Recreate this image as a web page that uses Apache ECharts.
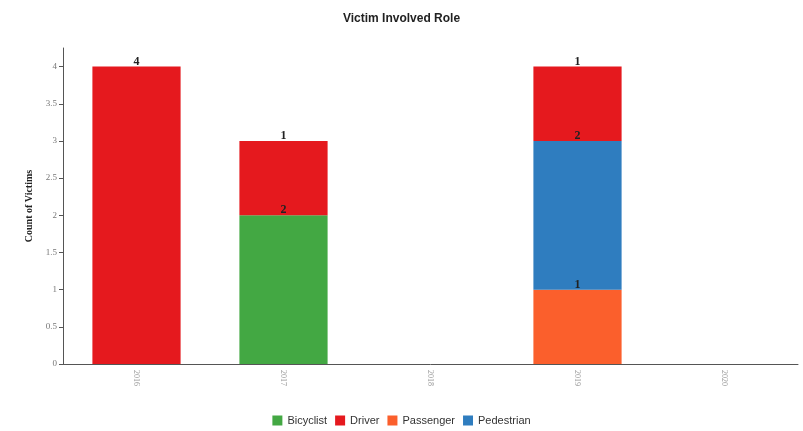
<!DOCTYPE html>
<html>
<head>
<meta charset="utf-8">
<script src="https://cdn.jsdelivr.net/npm/echarts@6/dist/echarts.min.js"></script>
<style>html,body{margin:0;padding:0;background:#fff}#c{width:803px;height:431px}</style>
</head>
<body>
<div id="c"></div>
<script>
const categories = ['2016', '2017', '2018', '2019', '2020'];
const bicyclist  = [null, 2, null, null, null];
const passenger  = [null, null, null, 1, null];
const pedestrian = [null, null, null, 2, null];
const driver     = [4, 1, null, 1, null];
const yTicks = [0, 0.5, 1, 1.5, 2, 2.5, 3, 3.5, 4];

const colors = {Bicyclist:'#43a843', Driver:'#e5191e', Passenger:'#fb5f2c', Pedestrian:'#2f7dbf'};
const lbl = {show:true, position:'top', distance:-1, color:'#222', fontFamily:'Liberation Serif, serif', fontWeight:'bold', fontSize:12};
function s(name, data){
  return {name, type:'bar', stack:'all', data, barWidth:'60%', itemStyle:{color:colors[name]}, label:lbl};
}
const chart = echarts.init(document.getElementById('c'));
chart.setOption({
  animation:false,
  title:{text:'Victim Involved Role', left:'center', top:8, textStyle:{fontFamily:'Liberation Sans, Arial, sans-serif', fontSize:12, fontWeight:'bold', color:'#222'}},
  legend:{data:['Bicyclist','Driver','Passenger','Pedestrian'], bottom:0, left:'center', icon:'rect', itemWidth:10, itemHeight:10, itemGap:8, textStyle:{fontFamily:'Liberation Sans, Arial, sans-serif', fontSize:11, color:'#333'}},
  grid:{left:63, right:5, top:48, bottom:67},
  xAxis:{type:'category', data:categories, axisLine:{lineStyle:{color:'#555'}}, axisTick:{show:false},
    axisLabel:{rotate:-90, fontSize:8, color:'#999', fontFamily:'Liberation Serif, serif', margin:6}},
  yAxis:{type:'value', min:0, max:4.25, interval:0.5, name:'Count of Victims', nameLocation:'middle', nameGap:27,
    nameTextStyle:{fontFamily:'Liberation Serif, serif', fontWeight:'bold', fontSize:10, color:'#222'},
    axisLine:{show:true, lineStyle:{color:'#555'}}, axisTick:{show:true, length:4, lineStyle:{color:'#555'}}, splitLine:{show:false},
    axisLabel:{showMaxLabel:false, fontSize:9, color:'#777', fontFamily:'Liberation Serif, serif', margin:6,
      formatter: v => yTicks.includes(v) ? String(v) : ''}},
  series:[s('Bicyclist', bicyclist), s('Passenger', passenger), s('Pedestrian', pedestrian), s('Driver', driver)]
});
</script>
</body>
</html>
